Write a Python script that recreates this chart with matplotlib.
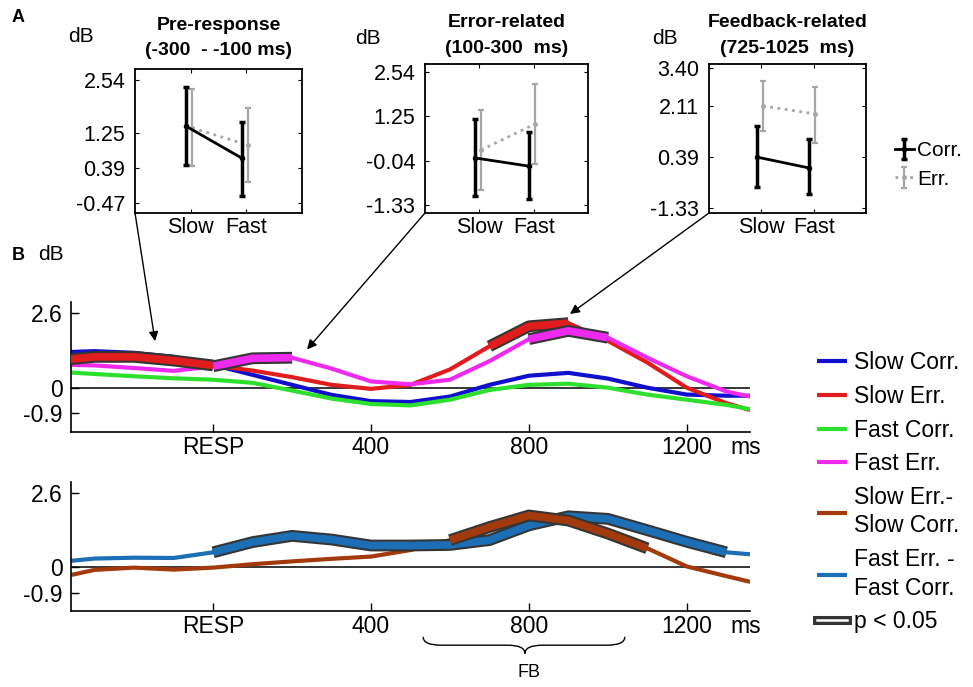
import numpy as np
import matplotlib.pyplot as plt
import matplotlib.patheffects as pe
from matplotlib.lines import Line2D
from matplotlib.patches import ConnectionPatch, PathPatch
from matplotlib.path import Path
from matplotlib.transforms import blended_transform_factory

plt.rcParams['font.family'] = ['Liberation Sans', 'DejaVu Sans']

W, H = 973, 687

# ---------------- panel A : window means (dB) with error bar ends
cond_x = [1, 2]
cond_names = ['Slow', 'Fast']

win_titles = ['Pre-response\n(-300  - -100 ms)',
              'Error-related\n(100-300  ms)',
              'Feedback-related\n(725-1025  ms)']
win_ticks = [[-0.47, 0.39, 1.25, 2.54],
             [-1.33, -0.04, 1.25, 2.54],
             [-1.33, 0.39, 2.11, 3.40]]
win_ylim = [(-0.71, 2.81), (-1.56, 2.77), (-1.50, 3.54)]

corr_mean = [[1.41, 0.63], [0.04, -0.20], [0.39, 0.02]]
corr_lo = [[0.46, -0.30], [-1.07, -1.16], [-0.62, -0.86]]
corr_hi = [[2.37, 1.51], [1.17, 0.79], [1.44, 1.00]]
err_mean = [[1.37, 0.95], [0.27, 1.03], [2.12, 1.85]]
err_lo = [[0.44, 0.04], [-0.89, -0.14], [1.27, 0.87]]
err_hi = [[2.32, 1.85], [1.43, 2.19], [2.96, 2.76]]

# ---------------- panel B : time courses (dB)
t_ms = [-360, -300, -200, -100, 0, 100, 200, 300, 400, 500, 600, 700,
        800, 900, 1000, 1100, 1200, 1300, 1360]
slow_corr = [1.25, 1.28, 1.22, 1.08, 0.80, 0.45, 0.10, -0.25, -0.47, -0.50,
             -0.31, 0.10, 0.42, 0.52, 0.32, 0.00, -0.24, -0.28, -0.28]
slow_err = [1.00, 1.08, 1.08, 0.95, 0.78, 0.60, 0.37, 0.10, -0.04, 0.10,
            0.64, 1.45, 2.15, 2.26, 1.64, 0.88, 0.00, -0.54, -0.78]
fast_corr = [0.53, 0.48, 0.40, 0.33, 0.28, 0.17, -0.10, -0.38, -0.57, -0.62,
             -0.42, -0.08, 0.10, 0.14, 0.00, -0.24, -0.42, -0.60, -0.75]
fast_err = [0.80, 0.78, 0.69, 0.59, 0.75, 1.03, 1.05, 0.67, 0.22, 0.12,
            0.28, 0.93, 1.70, 1.99, 1.75, 1.05, 0.40, -0.13, -0.31]
slow_diff = [-0.28, -0.10, -0.02, -0.09, -0.02, 0.10, 0.20, 0.29, 0.37, 0.60,
             0.95, 1.41, 1.82, 1.64, 1.18, 0.66, 0.02, -0.32, -0.52]
fast_diff = [0.22, 0.30, 0.33, 0.32, 0.52, 0.88, 1.10, 0.97, 0.76, 0.76,
             0.78, 0.95, 1.47, 1.79, 1.70, 1.30, 0.89, 0.52, 0.45]

# significant stretches (ms): (series, start, end)
sig_top = [('slow_err', -360, 0), ('fast_err', 0, 200),
           ('slow_err', 700, 900), ('fast_err', 800, 1000)]
sig_bot = [('fast_diff', 0, 1300), ('slow_diff', 600, 1100)]

arrow_targets = [(-147, 1.63), (238, 1.34), (904, 2.58)]

series = {'slow_corr': slow_corr, 'slow_err': slow_err,
          'fast_corr': fast_corr, 'fast_err': fast_err,
          'slow_diff': slow_diff, 'fast_diff': fast_diff}
colors = {'slow_corr': '#1010cc', 'slow_err': '#e01c1c',
          'fast_corr': '#2ee02e', 'fast_err': '#ee2aee',
          'slow_diff': '#a33a0c', 'fast_diff': '#1c6fb4'}
labels = {'slow_corr': 'Slow Corr.', 'slow_err': 'Slow Err.',
          'fast_corr': 'Fast Corr.', 'fast_err': 'Fast Err.',
          'slow_diff': 'Slow Err.-\nSlow Corr.',
          'fast_diff': 'Fast Err. -\nFast Corr.'}

fig = plt.figure(figsize=(W / 100, H / 100), dpi=100)


def px_axes(l, t, r, b):
    return fig.add_axes([l / W, 1 - b / H, (r - l) / W, (b - t) / H])


# ---------------- insets
boxes = [(135, 69, 302, 213), (425, 64, 588, 213), (709, 64, 866, 213)]
title_pad = [10, 8, 8]
dB_pos = [(81, 37), (368, 38), (665, 38)]
insets = []
for i, box in enumerate(boxes):
    ax = px_axes(*box)
    insets.append(ax)
    xc = np.array(cond_x) - 0.08
    xe = np.array(cond_x) + 0.03
    cm, em = np.array(corr_mean[i]), np.array(err_mean[i])
    ec = ax.errorbar(xc, cm, yerr=[cm - np.array(corr_lo[i]), np.array(corr_hi[i]) - cm],
                     color='black', lw=2, elinewidth=2.5, capsize=2.5, capthick=2.5,
                     marker='o', ms=3, zorder=3)
    ee = ax.errorbar(xe, em, yerr=[em - np.array(err_lo[i]), np.array(err_hi[i]) - em],
                     color='#a6a6a6', lw=2, ls=':', elinewidth=1.6, capsize=2.5,
                     capthick=1.6, marker='o', ms=2.5, zorder=2)
    ax.set_xlim(0, 3)
    ax.set_ylim(*win_ylim[i])
    ax.set_xticks(cond_x, cond_names)
    ax.set_yticks(win_ticks[i], ['%.2f' % v for v in win_ticks[i]])
    ax.tick_params(direction='in', top=True, right=True, length=3, width=0.8,
                   labelsize=15.5)
    ax.tick_params(axis='y', pad=7)
    ax.tick_params(axis='x', pad=3)
    for s in ax.spines.values():
        s.set_linewidth(1.3)
    ax.set_title(win_titles[i], fontsize=14, fontweight='bold', pad=title_pad[i],
                 linespacing=1.65)
    fig.text(dB_pos[i][0] / W, 1 - dB_pos[i][1] / H, 'dB', fontsize=15,
             ha='center', va='center')

fig.legend([ec, ee], ['Corr.', 'Err.'], loc='center left',
           bbox_to_anchor=(895 / W, 1 - 165 / H), frameon=False, fontsize=15,
           handlelength=0.9, handletextpad=0.15, labelspacing=0.45,
           borderpad=0, borderaxespad=0)

# ---------------- time course axes
axT = px_axes(71, 302, 750, 432)
axB = px_axes(71, 482, 750, 611)

sig_fx = [pe.Stroke(linewidth=8.5, foreground='#353535', capstyle='butt'), pe.Normal()]
t = np.array(t_ms)


def draw(ax, keys, sigs):
    handles = []
    for k in keys:
        ln, = ax.plot(t, series[k], color=colors[k], lw=3, solid_capstyle='butt',
                      label=labels[k], zorder=2)
        handles.append(ln)
    for k, a, b in sigs:
        m = (t >= a) & (t <= b)
        ax.plot(t[m], np.array(series[k])[m], color=colors[k], lw=5.5,
                solid_capstyle='butt', path_effects=sig_fx, zorder=3)
    ax.axhline(0, color='black', lw=1.1, zorder=1)
    ax.set_xlim(-360, 1360)
    ax.set_ylim(-1.55, 3.0)
    ax.set_xticks([0, 400, 800, 1200], ['RESP', '400', '800', '1200'])
    ax.set_yticks([-0.9, 0, 2.6], ['-0.9', '0', '2.6'])
    ax.tick_params(direction='in', length=6, width=1, labelsize=16.5)
    ax.tick_params(axis='y', pad=6)
    ax.tick_params(axis='x', pad=3)
    for s in ['top', 'right']:
        ax.spines[s].set_visible(False)
    for s in ['left', 'bottom']:
        ax.spines[s].set_linewidth(1.2)
    ax.annotate('ms', xy=(1.0, 0), xycoords='axes fraction', xytext=(-3, -3),
                textcoords='offset points', ha='center', va='top', fontsize=16.5)
    return handles


hT = draw(axT, ['slow_corr', 'slow_err', 'fast_corr', 'fast_err'], sig_top)
hB = draw(axB, ['slow_diff', 'fast_diff'], sig_bot)

p_handle = Line2D([], [], color='white', lw=1.8,
                  path_effects=[pe.Stroke(linewidth=6.5, foreground='#353535'), pe.Normal()])
legB = fig.legend(hT + hB + [p_handle], [h.get_label() for h in hT + hB] + ['p < 0.05'],
                  loc='upper left', bbox_to_anchor=(817 / W, 1 - 351 / H), frameon=False,
                  fontsize=16.5, handlelength=1.3, handletextpad=0.3, labelspacing=0.47,
                  borderpad=0, borderaxespad=0)
for txt in legB.get_texts():
    txt.set_linespacing(1.3)

fig.text(51 / W, 1 - 255 / H, 'dB', fontsize=15, ha='center', va='center')
fig.text(12 / W, 1 - 18 / H, 'A', fontsize=13, fontweight='bold', va='center')
fig.text(12 / W, 1 - 255 / H, 'B', fontsize=13, fontweight='bold', va='center')

# arrows from each window to the time course
for ax, (tx, vy) in zip(insets, arrow_targets):
    con = ConnectionPatch(xyA=(0, 0), coordsA=ax.transAxes, xyB=(tx, vy),
                          coordsB=axT.transData, arrowstyle='-|>',
                          mutation_scale=14, lw=1, color='black')
    fig.add_artist(con)

# feedback brace under the lower axis
tr = blended_transform_factory(axB.transData, axB.transAxes)
x0, x1, xc, q = 532, 1043, 790, 45
yt, ym, yb = -0.20, -0.265, -0.33
verts = [(x0, yt), (x0, ym), (x0 + q, ym), (xc - q, ym), (xc, ym), (xc, yb),
         (xc, ym), (xc + q, ym), (x1 - q, ym), (x1, ym), (x1, yt)]
codes = [Path.MOVETO, Path.CURVE3, Path.CURVE3, Path.LINETO, Path.CURVE3, Path.CURVE3,
         Path.CURVE3, Path.CURVE3, Path.LINETO, Path.CURVE3, Path.CURVE3]
axB.add_patch(PathPatch(Path(verts, codes), fill=False, lw=1, transform=tr,
                        clip_on=False))
axB.text(800, -0.48, 'FB', transform=tr, fontsize=13, ha='center', va='center')

fig.savefig('out.png', dpi=100)
